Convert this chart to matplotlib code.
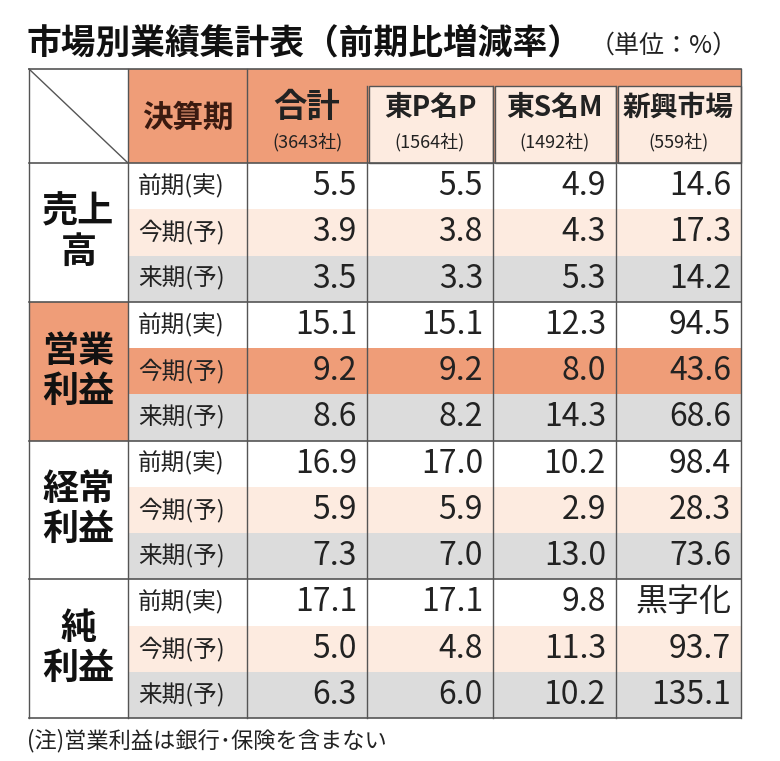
import matplotlib.pyplot as plt
from matplotlib.patches import Rectangle

plt.rcParams['font.family'] = 'Noto Sans CJK JP'

# data
columns = ['合計', '東P名P', '東S名M', '新興市場']
counts = ['(3643社)', '(1564社)', '(1492社)', '(559社)']
groups = ['売上\n高', '営業\n利益', '経常\n利益', '純\n利益']
periods = ['前期(実)', '今期(予)', '来期(予)']
values = [
    ['5.5', '5.5', '4.9', '14.6'],
    ['3.9', '3.8', '4.3', '17.3'],
    ['3.5', '3.3', '5.3', '14.2'],
    ['15.1', '15.1', '12.3', '94.5'],
    ['9.2', '9.2', '8.0', '43.6'],
    ['8.6', '8.2', '14.3', '68.6'],
    ['16.9', '17.0', '10.2', '98.4'],
    ['5.9', '5.9', '2.9', '28.3'],
    ['7.3', '7.0', '13.0', '73.6'],
    ['17.1', '17.1', '9.8', '黒字化'],
    ['5.0', '4.8', '11.3', '93.7'],
    ['6.3', '6.0', '10.2', '135.1'],
]

ORANGE = '#ef9d78'
PEACH = '#fdebe0'
GRAY = '#dcdcdc'
LINE = '#555555'

fig = plt.figure(figsize=(7.8, 7.61), dpi=100)
ax = fig.add_axes([0, 0, 1, 1])
ax.set_xlim(0, 780)
ax.set_ylim(761, 0)
ax.axis('off')

xs = [29, 128, 247, 367, 493, 616, 741]
top, hbot, bot = 69, 163, 718
rh = (bot - hbot) / 12

# header
ax.add_patch(Rectangle((xs[1], top), xs[6] - xs[1], hbot - top, color=ORANGE, lw=0))
for i in range(3, 6):
    ax.add_patch(Rectangle((xs[i] + 2, 86), xs[i + 1] - xs[i] - 2, hbot - 86,
                           facecolor=PEACH, edgecolor=LINE, lw=1))
ax.plot([xs[0], xs[1]], [top, hbot], color=LINE, lw=1)
ax.text((xs[1] + xs[2]) / 2, 118, '決算期', ha='center', va='center', fontsize=22, fontweight='bold', color='#3a1a10')
for i, (c, n) in enumerate(zip(columns, counts)):
    cx = (xs[i + 2] + xs[i + 3]) / 2
    ax.text(cx, 108, c, ha='center', va='center', fontsize=24 if i == 0 else 20, fontweight='bold', color='#222222')
    ax.text(cx, 142, n, ha='center', va='center', fontsize=13, color='#222222')

# body
for r in range(12):
    y = hbot + r * rh
    k = r % 3
    bg = [None, PEACH, GRAY][k]
    if r == 4:
        bg = ORANGE
    if bg:
        ax.add_patch(Rectangle((xs[1], y), xs[6] - xs[1], rh, color=bg, lw=0))
    ax.text(xs[1] + 10, y + rh / 2, periods[k], ha='left', va='center', fontsize=17, color='#222222')
    for j, v in enumerate(values[r]):
        ax.text(xs[j + 3] - 10, y + rh / 2, v, ha='right', va='center', fontsize=23, color='#222222')

for g, name in enumerate(groups):
    y0 = hbot + g * 3 * rh
    if g == 1:
        ax.add_patch(Rectangle((xs[0], y0), xs[1] - xs[0], 3 * rh, color=ORANGE, lw=0))
    ax.text((xs[0] + xs[1]) / 2, y0 + 1.5 * rh, name, ha='center', va='center', fontsize=26,
            fontweight='bold', linespacing=1.1, color='#111111')
    ax.plot([xs[0], xs[6]], [y0, y0], color=LINE, lw=1.2)

# grid lines
ax.plot([xs[0], xs[6]], [top, top], color=LINE, lw=1.2)
ax.plot([xs[0], xs[6]], [bot, bot], color=LINE, lw=1.2)
for i, x in enumerate(xs):
    ax.plot([x, x], [top if i < 3 or i == 6 else 86, bot], color=LINE, lw=1)

ax.text(27, 43, '市場別業績集計表（前期比増減率）', ha='left', va='center', fontsize=25, fontweight='bold', color='#111111')
ax.text(590, 46, '（単位：%）', ha='left', va='center', fontsize=18, color='#222222')
ax.text(27, 741, '(注)営業利益は銀行･保険を含まない', ha='left', va='center', fontsize=16, color='#222222')

fig.savefig('out.png', dpi=100)
